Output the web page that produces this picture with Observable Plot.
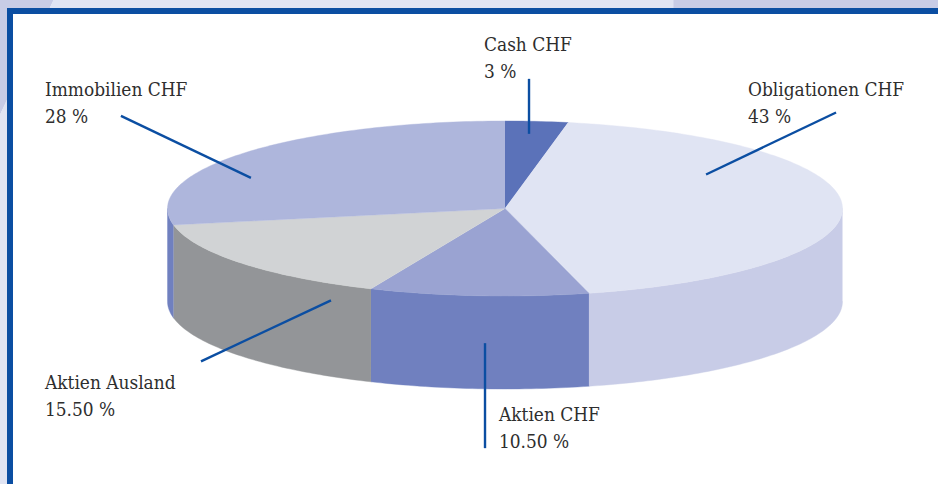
<!DOCTYPE html>
<html>
<head>
<meta charset="utf-8">
<script src="https://cdn.jsdelivr.net/npm/d3@7"></script>
<script src="https://cdn.jsdelivr.net/npm/@observablehq/plot@0.6"></script>
<style>
html,body{margin:0;padding:0;background:#fff}
#page{position:relative;width:938px;height:484px;overflow:hidden;
  background:
   linear-gradient(115deg,#c8cce6 0,#c8cce6 48px,transparent 48.5px),
   linear-gradient(90deg,transparent 673px,#c8cce6 674px),
   #e0e4f3;}
#panel{position:absolute;left:7px;top:8px;right:0;bottom:0;background:#fff;
  border-left:6px solid #0b4ea2;border-top:6px solid #0b4ea2}
#chart{position:absolute;left:0;top:0}
#chart svg{background:transparent;display:block}
</style>
</head>
<body>
<div id="page"><div id="panel"></div><div id="chart"></div></div>
<script>
// Data
const categories = ["Cash CHF","Obligationen CHF","Aktien CHF","Aktien Ausland","Immobilien CHF"];
const shares = [3,43,10.5,15.5,28];
const shareLabels = ["3 %","43 %","10.50 %","15.50 %","28 %"];

// Styling
const topColors  = ["#5b72b9","#e0e4f3","#9aa3d2","#d1d3d5","#aeb6dc"];
const sideColors = ["#5b72b9","#c8cce7","#7080bf","#939598","#7080bf"];
const leaderColor = "#0b4ea2", textColor = "#2e2e2e";

// Pie projection
const cx = 504.5, cy = 208, rx = 337.5, ry = 87.5, depth = 93;
const px = a => cx + rx*Math.sin(a*Math.PI/180);
const py = a => cy - ry*Math.cos(a*Math.PI/180);
const arc = (a,b) => d3.range(0,Math.ceil(Math.abs(b-a))+1).map(i => a + (b-a)*Math.min(1,i/Math.abs(b-a)));

let acc = 0;
const slices = categories.map((name,i) => {
  const a0 = acc*3.6; acc += shares[i]; const a1 = acc*3.6;
  return {name, label: shareLabels[i], a0, a1, mid:(a0+a1)/2, top: topColors[i], side: sideColors[i]};
});

const tops = [], sides = [];
for (const s of slices) {
  tops.push({id:s.name,x:cx,y:cy,color:s.top});
  for (const a of arc(s.a0,s.a1)) tops.push({id:s.name,x:px(a),y:py(a),color:s.top});
  const l = Math.max(s.a0,90), h = Math.min(s.a1,270);
  if (l < h) {
    const pts = arc(l,h);
    for (const a of pts) sides.push({id:s.name,x:px(a),y:py(a),color:s.side});
    for (const a of pts.slice().reverse()) sides.push({id:s.name,x:px(a),y:py(a)+depth,color:s.side});
  }
}

// Label and leader placement, per category
const layout = {
  "Cash CHF":        {tx:483.5,ty:31.5, r:.756, lift:-8.8, dx:0,    dy:-55},
  "Obligationen CHF":{tx:747.5,ty:76.5, r:.596, lift:-32.4,dx:130,  dy:-62},
  "Aktien CHF":      {tx:498.5,ty:401.5,r:.755, lift:68.8, dx:0,    dy:105},
  "Aktien Ausland":  {tx:44.5, ty:369.5,r:.6606,lift:55.7, dx:-130, dy:61},
  "Immobilien CHF":  {tx:44.5, ty:76.5, r:.977, lift:23.8, dx:-130, dy:-62}
};
const leaders = slices.map(s => {
  const L = layout[s.name], t = s.mid*Math.PI/180;
  const x1 = cx + rx*L.r*Math.sin(t), y1 = cy - ry*L.r*Math.cos(t) + L.lift;
  return {x1,y1,x2:x1+L.dx,y2:y1+L.dy};
});

const chart = Plot.plot({
  width:938,height:484,margin:0,
  x:{type:"identity",axis:null},
  y:{type:"identity",axis:null},
  style:{background:"transparent"},
  marks:[
    Plot.line(sides,{x:"x",y:"y",z:"id",fill:"color",stroke:"color",strokeWidth:0.4,curve:"linear"}),
    Plot.line(tops,{x:"x",y:"y",z:"id",fill:"color",stroke:"color",strokeWidth:0.4,curve:"linear"}),
    Plot.link(leaders,{x1:"x1",y1:"y1",x2:"x2",y2:"y2",stroke:leaderColor,strokeWidth:2.4,strokeLinecap:"butt"}),
    Plot.text(slices,{
      x:d=>layout[d.name].tx,y:d=>layout[d.name].ty,
      text:d=>d.name+"\n"+d.label,
      textAnchor:"start",lineAnchor:"top",lineHeight:1.42,
      fontFamily:"'DejaVu Serif Condensed','DejaVu Serif',serif",fontSize:18.9,fill:textColor
    })
  ]
});
document.getElementById("chart").appendChild(chart);
</script>
</body>
</html>
